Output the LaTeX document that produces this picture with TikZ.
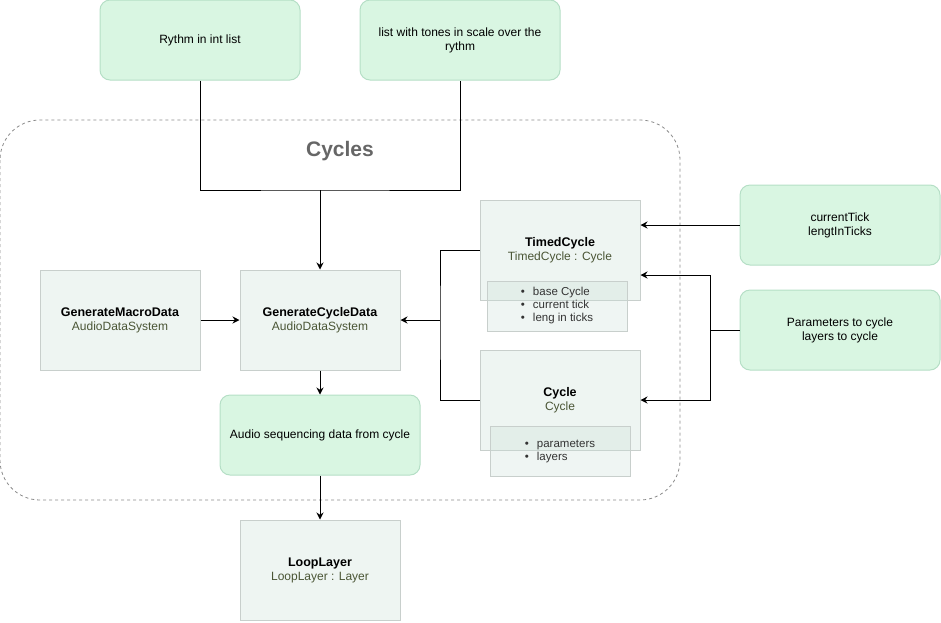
\documentclass[tikz,border=0pt]{standalone}
\usepackage{fontspec}
\setmainfont{Liberation Sans}
\usetikzlibrary{arrows.meta}
\definecolor{greenfill}{HTML}{D9F6E2}
\definecolor{greenline}{HTML}{B5DFC6}
\definecolor{boxfill}{HTML}{EEF5F2}
\definecolor{boxline}{HTML}{C8CFCC}
\definecolor{listfill}{HTML}{CADED7}
\definecolor{subtext}{HTML}{4A5535}
\definecolor{framegray}{HTML}{8A8A8A}
\tikzset{
	greenbox/.style={draw=greenline,fill=greenfill,line width=1pt,rounded corners=10pt,
		minimum width=200pt,minimum height=80pt,align=center,font=\fontsize{12}{14}\selectfont},
	classbox/.style={draw=boxline,fill=boxfill,line width=1pt,minimum width=160pt,
		minimum height=100pt,align=center,font=\fontsize{12}{14}\selectfont},
	listbox/.style={draw=boxline,fill=listfill,fill opacity=0.3,text opacity=1,line width=1pt,
		minimum width=140pt,minimum height=50pt,align=left,text=black!80,font=\fontsize{11.5}{13}\selectfont},
	link/.style={line width=1pt}
}
\newcommand{\classtext}[2]{{\fontsize{12.5}{14}\selectfont\textbf{#1}}\\\textcolor{subtext}{#2}}
\newcommand{\bitem}{\textbullet\hspace{8pt}}
\begin{document}
\begin{tikzpicture}[x=1pt,y=-1pt,>={Stealth[length=7pt,width=7pt]}]
\useasboundingbox (0,0) rectangle (941,622);
\draw[framegray,line width=0.8pt,dash pattern=on 3pt off 3pt,rounded corners=40pt] (0,120) rectangle (680,500);
\node[font=\fontsize{21}{24}\selectfont\bfseries,text=black!60] (cyclestitle) at (340,151) {Cycles};

\node[greenbox] (rythm) at (200,40) {Rythm in int list};
\node[greenbox] (tones) at (460,40) {list with tones in scale over the\\rythm};
\node[greenbox] (tick) at (840,225) {currentTick\\lengtInTicks};
\node[greenbox] (params) at (840,330) {Parameters to cycle\\layers to cycle};
\node[greenbox] (audio) at (320,435) {Audio sequencing data from cycle};

\node[classbox] (macro) at (120,320) {\classtext{GenerateMacroData}{AudioDataSystem}};
\node[classbox] (gcd) at (320,320) {\classtext{GenerateCycleData}{AudioDataSystem}};
\node[classbox] (timed) at (560,250) {\classtext{TimedCycle}{TimedCycle : Cycle}};
\node[listbox] (timedlist) at (557,306) {\bitem base Cycle\\\bitem current tick\\\bitem leng in ticks};
\node[classbox] (cycle) at (560,400) {\classtext{Cycle}{Cycle}};
\node[listbox] (cyclelist) at (560,451) {\bitem parameters\\\bitem layers};
\node[classbox] (loop) at (320,570) {\classtext{LoopLayer}{LoopLayer : Layer}};

\coordinate (merge) at (320,190);
\coordinate (split) at (440,320);
\coordinate (fork) at (710,330);

\draw[link] (rythm.south) |- (merge) -| (tones.south);
\draw[link,->] (merge) -- (gcd.north);
\draw[link,->] (macro.east) -- (gcd.west);
\draw[link] (timed.west) -| (split) |- (cycle.west);
\draw[link,->] (split) -- (gcd.east);
\draw[link,->] (tick.west) -- (tick.west -| timed.east);
\draw[link] (params.west) -- (fork);
\draw[link,->] (fork) |- ([yshift=-25pt]timed.east);
\draw[link,->] (fork) |- (cycle.east);
\draw[link,->] (gcd.south) -- (audio.north);
\draw[link,->] (audio.south) -- (loop.north);
\end{tikzpicture}
\end{document}
